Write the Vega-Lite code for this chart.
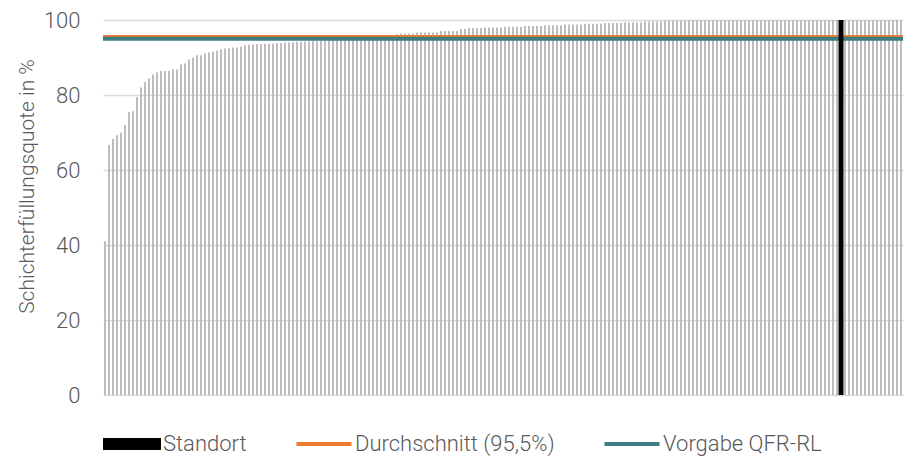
{
  "$schema": "https://vega.github.io/schema/vega-lite/v6.json",
  "width": 800,
  "height": 375,
  "autosize": {"type": "none"},
  "padding": {"left": 103, "top": 20, "right": 1, "bottom": 70},
  "background": "#ffffff",
  "config": {"font": "Roboto", "view": {"stroke": null}},
  "datasets": {
    "quote": [
      {"i":0,"v":41},{"i":1,"v":66.7},{"i":2,"v":68.3},{"i":3,"v":69.3},{"i":4,"v":70},{"i":5,"v":72},{"i":6,"v":75.4},{"i":7,"v":75.7},{"i":8,"v":79.5},{"i":9,"v":82},
      {"i":10,"v":83.5},{"i":11,"v":84.4},{"i":12,"v":85.5},{"i":13,"v":86.1},{"i":14,"v":86.4},{"i":15,"v":86.4},{"i":16,"v":86.4},{"i":17,"v":86.8},{"i":18,"v":86.8},{"i":19,"v":88.2},
      {"i":20,"v":88.4},{"i":21,"v":89.5},{"i":22,"v":90.0},{"i":23,"v":90.6},{"i":24,"v":90.6},{"i":25,"v":91.1},{"i":26,"v":91.4},{"i":27,"v":91.6},{"i":28,"v":91.9},{"i":29,"v":92.2},
      {"i":30,"v":92.4},{"i":31,"v":92.5},{"i":32,"v":92.7},{"i":33,"v":92.7},{"i":34,"v":92.9},{"i":35,"v":93.2},{"i":36,"v":93.4},{"i":37,"v":93.5},{"i":38,"v":93.6},{"i":39,"v":93.6},
      {"i":40,"v":93.7},{"i":41,"v":93.7},{"i":42,"v":93.7},{"i":43,"v":93.8},{"i":44,"v":93.9},{"i":45,"v":94.0},{"i":46,"v":94.1},{"i":47,"v":94.1},{"i":48,"v":94.2},{"i":49,"v":94.2},
      {"i":50,"v":94.3},{"i":51,"v":94.3},{"i":52,"v":94.4},{"i":53,"v":94.4},{"i":54,"v":94.5},{"i":55,"v":94.5},{"i":56,"v":94.6},{"i":57,"v":94.6},{"i":58,"v":94.7},{"i":59,"v":94.8},
      {"i":60,"v":94.8},{"i":61,"v":94.9},{"i":62,"v":95.0},{"i":63,"v":95.1},{"i":64,"v":95.2},{"i":65,"v":95.3},{"i":66,"v":95.4},{"i":67,"v":95.5},{"i":68,"v":95.6},{"i":69,"v":95.7},
      {"i":70,"v":95.8},{"i":71,"v":95.9},{"i":72,"v":96.0},{"i":73,"v":96.2},{"i":74,"v":96.4},{"i":75,"v":96.4},{"i":76,"v":96.4},{"i":77,"v":96.4},{"i":78,"v":96.7},{"i":79,"v":96.7},
      {"i":80,"v":96.7},{"i":81,"v":96.7},{"i":82,"v":96.7},{"i":83,"v":96.7},{"i":84,"v":97.1},{"i":85,"v":97.1},{"i":86,"v":97.1},{"i":87,"v":97.1},{"i":88,"v":97.1},{"i":89,"v":97.6},
      {"i":90,"v":97.6},{"i":91,"v":97.9},{"i":92,"v":97.9},{"i":93,"v":97.9},{"i":94,"v":97.9},{"i":95,"v":98.0},{"i":96,"v":98.0},{"i":97,"v":98.0},{"i":98,"v":98.0},{"i":99,"v":98.0},
      {"i":100,"v":98.2},{"i":101,"v":98.2},{"i":102,"v":98.2},{"i":103,"v":98.2},{"i":104,"v":98.2},{"i":105,"v":98.4},{"i":106,"v":98.4},{"i":107,"v":98.4},{"i":108,"v":98.4},{"i":109,"v":98.4},
      {"i":110,"v":98.6},{"i":111,"v":98.6},{"i":112,"v":98.6},{"i":113,"v":98.6},{"i":114,"v":98.6},{"i":115,"v":98.8},{"i":116,"v":98.8},{"i":117,"v":98.8},{"i":118,"v":98.8},{"i":119,"v":98.8},
      {"i":120,"v":99.0},{"i":121,"v":99.0},{"i":122,"v":99.0},{"i":123,"v":99.0},{"i":124,"v":99.0},{"i":125,"v":99.2},{"i":126,"v":99.2},{"i":127,"v":99.2},{"i":128,"v":99.2},{"i":129,"v":99.2},
      {"i":130,"v":99.4},{"i":131,"v":99.4},{"i":132,"v":99.4},{"i":133,"v":99.4},{"i":134,"v":99.4},{"i":135,"v":99.6},{"i":136,"v":99.6},{"i":137,"v":99.6},{"i":138,"v":99.6},{"i":139,"v":99.6},
      {"i":140,"v":99.8},{"i":141,"v":99.8},{"i":142,"v":99.8},{"i":143,"v":99.8},{"i":144,"v":99.8},{"i":145,"v":100},{"i":146,"v":100},{"i":147,"v":100},{"i":148,"v":100},{"i":149,"v":100},
      {"i":150,"v":100},{"i":151,"v":100},{"i":152,"v":100},{"i":153,"v":100},{"i":154,"v":100},{"i":155,"v":100},{"i":156,"v":100},{"i":157,"v":100},{"i":158,"v":100},{"i":159,"v":100},
      {"i":160,"v":100},{"i":161,"v":100},{"i":162,"v":100},{"i":163,"v":100},{"i":164,"v":100},{"i":165,"v":100},{"i":166,"v":100},{"i":167,"v":100},{"i":168,"v":100},{"i":169,"v":100},
      {"i":170,"v":100},{"i":171,"v":100},{"i":172,"v":100},{"i":173,"v":100},{"i":174,"v":100},{"i":175,"v":100},{"i":176,"v":100},{"i":177,"v":100},{"i":178,"v":100},{"i":179,"v":100},
      {"i":180,"v":100},{"i":181,"v":100},{"i":182,"v":100},{"i":183,"v":100},{"i":184,"v":100,"loc":"Standort"},{"i":185,"v":100},{"i":186,"v":100},{"i":187,"v":100},{"i":188,"v":100},{"i":189,"v":100},
      {"i":190,"v":100},{"i":191,"v":100},{"i":192,"v":100},{"i":193,"v":100},{"i":194,"v":100},{"i":195,"v":100},{"i":196,"v":100},{"i":197,"v":100},{"i":198,"v":100},{"i":199,"v":100}
    ],
    "linien": [
      {"serie": "Durchschnitt (95,5%)", "y": 95.5},
      {"serie": "Vorgabe QFR-RL", "y": 95}
    ]
  },
  "layer": [
    {
      "data": {"name": "quote"},
      "mark": {"type": "bar", "width": 1.7, "color": "#b3b3b3"},
      "encoding": {
        "x": {"field": "i", "type": "ordinal", "scale": {"paddingInner": 0, "paddingOuter": 0}, "axis": null},
        "y": {
          "field": "v", "type": "quantitative",
          "scale": {"domain": [0, 100], "nice": false},
          "axis": {
            "title": "Schichterfüllungsquote in %",
            "titleFontSize": 21, "titleFontWeight": 300, "titleColor": "#595959", "titlePadding": 6, "titleY": 166,
            "labelFontSize": 22, "labelFontWeight": 300, "labelColor": "#595959", "labelPadding": 23,
            "domain": false, "ticks": false, "values": [0, 20, 40, 60, 80, 100],
            "gridColor": "#d9d9d9", "gridWidth": 1.5
          }
        }
      }
    },
    {
      "data": {"name": "linien"},
      "mark": {"type": "rule", "strokeWidth": 4},
      "encoding": {
        "y": {"field": "y", "type": "quantitative"},
        "color": {
          "field": "serie", "type": "nominal",
          "scale": {"domain": ["Standort", "Durchschnitt (95,5%)", "Vorgabe QFR-RL"], "range": ["#000000", "#EE7D31", "#3C7D83"]},
          "legend": {
            "orient": "bottom", "direction": "horizontal", "title": null,
            "symbolSize": 3364, "labelFontSize": 22, "labelFontWeight": 300, "labelColor": "#595959", "labelLimit": 400,
            "labelOffset": 2, "columnPadding": 48, "offset": 20,
            "encode": {
              "symbols": {
                "update": {
                  "shape": {"signal": "datum.value === 'Standort' ? 'M-1,-0.21H1V0.21H-1Z' : 'M-0.95,-0.07H0.95V0.07H-0.95Z'"},
                  "fill": {"signal": "scale('color', datum.value)"},
                  "stroke": {"value": "transparent"},
                  "strokeWidth": {"value": 0},
                  "opacity": {"value": 1}
                }
              }
            }
          }
        }
      }
    },
    {
      "data": {"name": "quote"},
      "transform": [{"filter": "datum.loc == 'Standort'"}],
      "mark": {"type": "bar", "width": 5},
      "encoding": {
        "x": {"field": "i", "type": "ordinal"},
        "y": {"field": "v", "type": "quantitative"},
        "color": {"field": "loc", "type": "nominal"}
      }
    }
  ]
}
